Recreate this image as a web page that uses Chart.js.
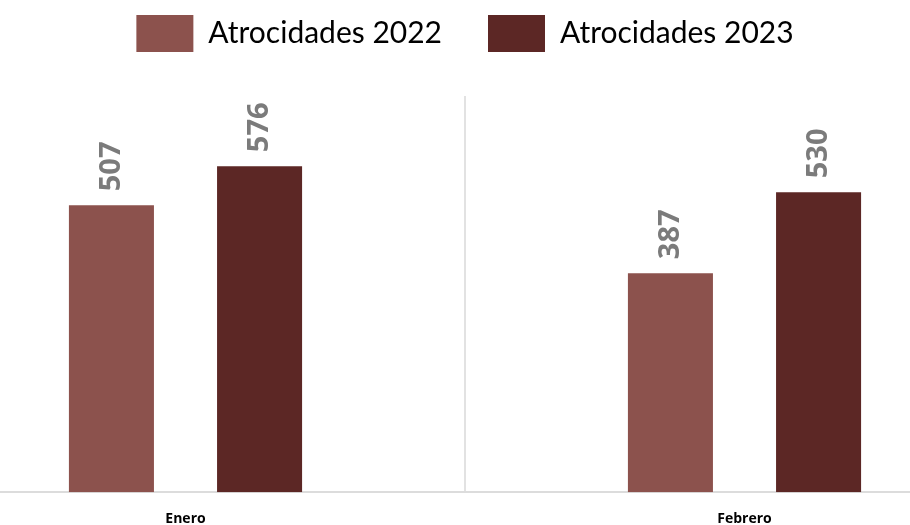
<!DOCTYPE html>
<html>
<head>
<meta charset="utf-8">
<script src="https://cdn.jsdelivr.net/npm/chart.js@4"></script>
<style>
    html, body { margin: 0; padding: 0; background: #fff; overflow: hidden; width: 910px; height: 525px; }
    /* el lienzo es más ancho que la ventana para que los grupos queden tan separados como en el original */
    #wrap { position: absolute; left: -94px; top: -31px; width: 1118px; height: 576px; }
</style>
</head>
<body>
<div id="wrap"><canvas id="grafico"></canvas></div>
<script>
// datos
const meses = ["Enero", "Febrero"];
const atrocidades2022 = [507, 387];
const atrocidades2023 = [576, 530];
const ejeYMin = 0;
const ejeYMax = 700;

// espacio extra bajo la leyenda
const margenLeyenda = {
    id: "margenLeyenda",
    beforeInit(chart) {
        const fitOriginal = chart.legend.fit;
        chart.legend.fit = function () {
            fitOriginal.bind(chart.legend)();
            this.height += 34;
        };
    }
};

// números girados encima de cada barra
const etiquetas = {
    id: "etiquetas",
    afterDatasetsDraw(chart) {
        const ctx = chart.ctx;
        chart.data.datasets.forEach((ds, i) => {
            chart.getDatasetMeta(i).data.forEach((barra, j) => {
                ctx.save();
                ctx.translate(barra.x, barra.y - 14);
                ctx.rotate(-Math.PI / 2);
                ctx.textAlign = "left";
                ctx.textBaseline = "middle";
                ctx.font = "bold 29px 'Open Sans'";
                ctx.fillStyle = "#7b7b7b";
                ctx.fillText(ds.data[j], 0, 0);
                ctx.restore();
            });
        });
    }
};

new Chart(document.getElementById("grafico"), {
    type: "bar",
    data: {
        labels: meses,
        datasets: [
            { label: "Atrocidades 2022", data: atrocidades2022, backgroundColor: "#8C524D" },
            { label: "Atrocidades 2023", data: atrocidades2023, backgroundColor: "#5C2725" }
        ]
    },
    options: {
        responsive: true, maintainAspectRatio: false, animation: false,
        categoryPercentage: 0.53, barPercentage: 0.574,
        layout: { padding: 0 },
        plugins: {
            legend: {
                labels: {
                    boxWidth: 57, boxHeight: 37, padding: 46,
                    color: "#000",
                    font: { family: "Lato", size: 30 }
                }
            },
            tooltip: { enabled: false }
        },
        scales: {
            y: { display: false, min: ejeYMin, max: ejeYMax },
            x: {
                grid: { offset: true, color: "#e2e2e2", lineWidth: 2, drawTicks: false },
                border: { color: "#dcdcdc", width: 2 },
                ticks: { color: "#000", padding: 18, font: { family: "Open Sans", size: 14, weight: "bold" } }
            }
        }
    },
    plugins: [margenLeyenda, etiquetas]
});
</script>
</body>
</html>
